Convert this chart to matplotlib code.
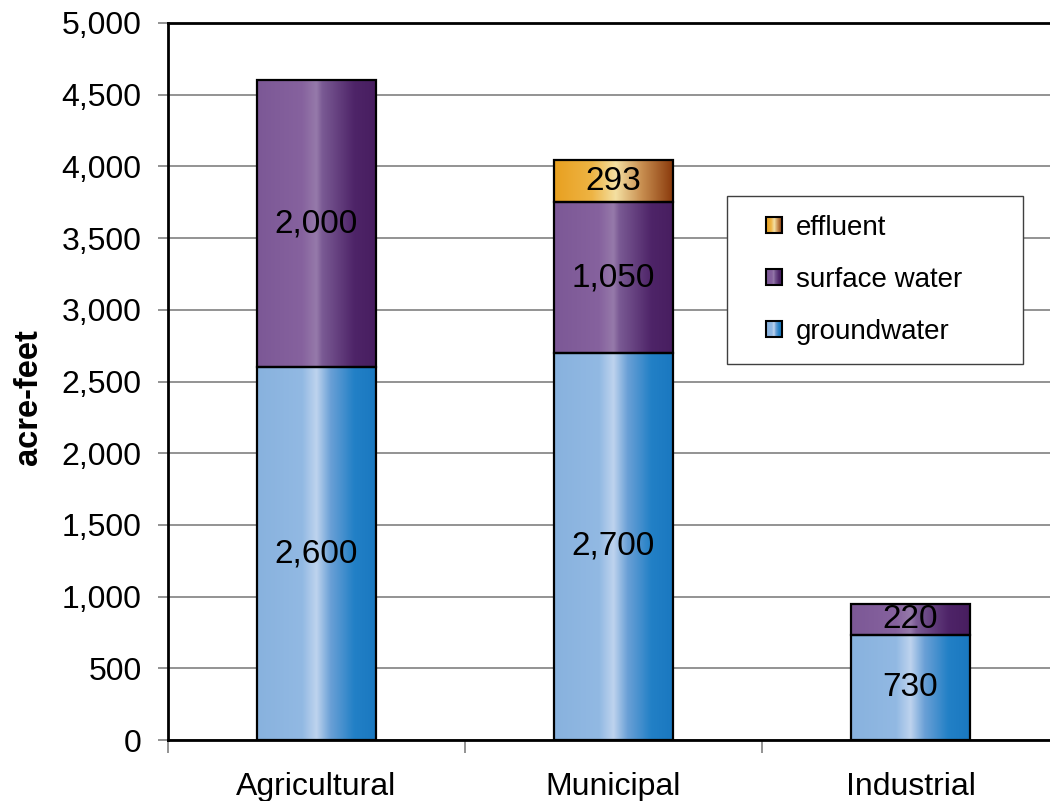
import numpy as np
import matplotlib
matplotlib.use('Agg')
import matplotlib.pyplot as plt
from matplotlib.colors import LinearSegmentedColormap
from matplotlib.patches import Rectangle
from matplotlib.legend_handler import HandlerBase
from matplotlib.ticker import FuncFormatter, FixedLocator

plt.rcParams['font.family'] = ['Liberation Sans', 'DejaVu Sans']

# data (acre-feet)
categories = ['Agricultural', 'Municipal', 'Industrial']
groundwater = [2600, 2700, 730]
surface_water = [2000, 1050, 220]
effluent = [0, 293, 0]
series_names = ['groundwater', 'surface water', 'effluent']

# horizontal gradient stops for each series
grad_stops = {
    'groundwater': [(0.0, '#88b2de'), (0.38, '#92b9e3'), (0.50, '#bed3ee'),
                    (0.62, '#6aa0d6'), (0.82, '#2280c6'), (1.0, '#1a78c0')],
    'surface water': [(0.0, '#7c5896'), (0.38, '#86629e'), (0.50, '#967aaa'),
                      (0.55, '#7a5a94'), (0.82, '#4e2468'), (1.0, '#481e60')],
    'effluent': [(0.0, '#e8a020'), (0.32, '#eeb444'), (0.52, '#f4e0a2'),
                 (0.74, '#c88e50'), (1.0, '#8a3a0c')],
}
cmaps = {k: LinearSegmentedColormap.from_list(k, v) for k, v in grad_stops.items()}
grad = np.linspace(0, 1, 256).reshape(1, -1)


class GradientHandler(HandlerBase):
    # small gradient square, pushed to the right end of the handle box
    def create_artists(self, legend, orig_handle, xdescent, ydescent,
                       width, height, fontsize, trans):
        cmap = cmaps[orig_handle.get_label()]
        size = fontsize * 0.58
        x0 = -xdescent + width - size
        y0 = -ydescent + (height - size) / 2
        arts = []
        n = 16
        for i in range(n):
            r = Rectangle((x0 + size * i / n, y0), size / n + 0.3, size,
                          facecolor=cmap((i + 0.5) / n), edgecolor='none',
                          transform=trans)
            arts.append(r)
        arts.append(Rectangle((x0, y0), size, size, facecolor='none',
                              edgecolor='black', lw=1.5, transform=trans))
        return arts


fig = plt.figure(figsize=(10.5, 8.01), dpi=100)
ax = fig.add_axes([168 / 1050, 61 / 801, 891 / 1050, 717 / 801])

bar_w = 0.4
x = np.arange(len(categories))
bottoms = np.zeros(len(categories))
for name, vals in zip(series_names, [groundwater, surface_water, effluent]):
    for xi, v, b in zip(x, vals, bottoms):
        if v <= 0:
            continue
        ax.imshow(grad, cmap=cmaps[name], aspect='auto', interpolation='bilinear',
                  extent=(xi - bar_w / 2, xi + bar_w / 2, b, b + v), zorder=2)
        ax.add_patch(Rectangle((xi - bar_w / 2, b), bar_w, v, facecolor='none',
                               edgecolor='black', lw=1.6, zorder=3))
        ax.text(xi, b + v / 2, f'{v:,}', ha='center', va='center',
                fontsize=24, zorder=4)
    bottoms += np.array(vals)

ax.set_xlim(-0.5, 2.5)
ax.set_ylim(0, 5000)
ax.set_yticks(np.arange(0, 5001, 500))
ax.yaxis.set_major_formatter(FuncFormatter(lambda v, p: f'{int(v):,}'))
ax.grid(axis='y', color='#808080', lw=1.2, zorder=0)
ax.tick_params(axis='y', length=7, width=1.2, color='#808080', labelsize=23, pad=12)

ax.xaxis.set_major_locator(FixedLocator([-0.5, 0.5, 1.5, 2.5]))
ax.set_xticklabels([])
ax.xaxis.set_minor_locator(FixedLocator(x))
ax.set_xticklabels(categories, minor=True)
ax.tick_params(axis='x', which='major', length=9, width=1.2, color='#808080')
ax.tick_params(axis='x', which='minor', length=0, labelsize=23, pad=23)

for s in ['left', 'bottom', 'top']:
    ax.spines[s].set_linewidth(2)
    ax.spines[s].set_color('black')
ax.spines['right'].set_visible(False)

ax.set_ylabel('acre-feet', fontsize=23.5, fontweight='bold')
ax.yaxis.set_label_coords(-0.139, 0.478)

handles = [Rectangle((0, 0), 1, 1, label=n) for n in ['effluent', 'surface water', 'groundwater']]
leg = ax.legend(handles=handles, labels=['effluent', 'surface water', 'groundwater'],
                handler_map={Rectangle: GradientHandler()},
                loc='upper left', bbox_to_anchor=(0.627, 0.53, 0.333, 0.229),
                mode='expand', fontsize=20, frameon=True, fancybox=False,
                edgecolor='#404040', framealpha=1, borderpad=0.68,
                labelspacing=0.94, handlelength=1.32, handletextpad=0.5,
                borderaxespad=0)
leg.get_frame().set_linewidth(1.0)
leg.set_zorder(5)

fig.savefig('out.png', dpi=100)
